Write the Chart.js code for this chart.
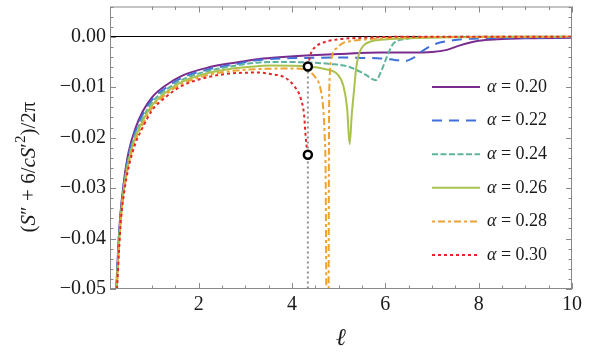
<!DOCTYPE html>
<html>
<head>
<meta charset="utf-8">
<script src="https://cdn.jsdelivr.net/npm/chart.js@4.4.1/dist/chart.umd.min.js"></script>
<style>
  html, body { margin: 0; padding: 0; background: #fff; }
  #chart { display: block; }
</style>
</head>
<body>
<canvas id="chart" width="598" height="359"></canvas>
<script>
// series labels and colours
const LABELS = ['α = 0.20', 'α = 0.22', 'α = 0.24', 'α = 0.26', 'α = 0.28', 'α = 0.30'];
const COLORS = ['#7a2c8e', '#3f6fd8', '#5fb39c', '#a9c24e', '#eda232', '#e2272b'];
const DASHES = [[], [10, 7], [6, 2.5], [], [3, 3, 7, 3], [3, 3]];

// values (ell, value); null breaks a line
const ell20 = [0.235, 0.28, 0.32, 0.4, 0.5, 0.65, 0.8, 1.0, 1.3, 1.65, 2.2, 2.8, 3.3, 3.8, 4.3, 5.0, 5.9, 6.5, 7.0, 7.32, 7.6, 8.0, 8.4, 9.1, 10];
const val20 = [-0.05, -0.041, -0.0355, -0.0285, -0.0228, -0.0180, -0.0148, -0.0120, -0.0096, -0.0077, -0.0061, -0.0051, -0.0044, -0.0040, -0.0037, -0.0034, -0.0031, -0.0031, -0.0030, -0.0026, -0.0017, -0.0008, -0.0005, -0.0003, -0.0002];

const ell22 = [0.238, 0.28, 0.32, 0.4, 0.5, 0.65, 0.8, 1.0, 1.3, 1.65, 2.2, 2.8, 3.3, 3.8, 4.3, 5.0, 5.5, 5.9, 6.2, 6.43, 6.58, 6.75, 7.05, 7.45, 8.1, 9.0, 10];
const val22 = [-0.05, -0.0415, -0.036, -0.029, -0.0234, -0.0186, -0.0154, -0.0125, -0.0101, -0.0081, -0.0065, -0.0054, -0.0046, -0.0043, -0.0042, -0.0041, -0.0042, -0.0043, -0.0046, -0.0048, -0.0043, -0.0031, -0.0015, -0.0007, -0.0003, -0.0002, -0.0001];

const ell24 = [0.24, 0.285, 0.325, 0.4, 0.5, 0.65, 0.8, 1.0, 1.3, 1.65, 2.2, 2.8, 3.3, 3.8, 4.33, 4.83, 5.2, 5.54, 5.8, 5.93, 6.04, 6.1, 6.18, 6.47, 7.0, 8.0, 10];
const val24 = [-0.05, -0.0415, -0.036, -0.0295, -0.0240, -0.0192, -0.0161, -0.0130, -0.0105, -0.0085, -0.0068, -0.0057, -0.0051, -0.0050, -0.0051, -0.0054, -0.0059, -0.0073, -0.0086, -0.0064, -0.0038, -0.0025, -0.0013, -0.0004, -0.0001, 0, 0];

const ell26 = [0.243, 0.29, 0.33, 0.4, 0.5, 0.65, 0.8, 1.0, 1.3, 1.65, 2.2, 2.8, 3.3, 3.54, 4.34, 4.7, 4.97, 5.1, 5.18, 5.235, 5.28, 5.33, 5.37, 5.41, 5.47, 5.55, 5.7, 5.9, 6.47, 7.5, 10];
const val26 = [-0.05, -0.0415, -0.036, -0.030, -0.0246, -0.0198, -0.0167, -0.0136, -0.0110, -0.0089, -0.0072, -0.0062, -0.0058, -0.0057, -0.0059, -0.0064, -0.0074, -0.0097, -0.0140, -0.0213, -0.0155, -0.0105, -0.0066, -0.0043, -0.0026, -0.0016, -0.0009, -0.0006, -0.0003, -0.0001, 0];

const ell28 = [0.246, 0.29, 0.33, 0.4, 0.5, 0.65, 0.8, 1.0, 1.3, 1.65, 2.2, 2.8, 3.3, 3.8, 4.08, 4.33, 4.47, 4.61, 4.67, 4.7, 4.72, 4.735,
               4.76,
               4.785, 4.79, 4.795, 4.81, 4.86, 4.97, 5.08, 5.3, 5.61, 6.5, 10];
const val28 = [-0.05, -0.042, -0.0365, -0.0305, -0.0252, -0.0204, -0.0174, -0.0141, -0.0114, -0.0093, -0.0076, -0.0067, -0.0064, -0.0063, -0.0063, -0.0067, -0.0077, -0.0103, -0.0143, -0.0195, -0.0267, -0.05,
               null,
               -0.05, -0.027, -0.0143, -0.0077, -0.0038, -0.0022, -0.0013, -0.0008, -0.0005, -0.0001, 0];

const ell30 = [0.25, 0.295, 0.335, 0.4, 0.5, 0.65, 0.8, 1.0, 1.3, 1.65, 2.2, 2.8, 3.3, 3.54, 3.83, 4.04, 4.19, 4.26, 4.29, 4.325, 4.34,
               4.34,
               4.345, 4.37, 4.42, 4.5, 4.65, 5.0, 5.5, 6.5, 10];
const val30 = [-0.05, -0.042, -0.0362, -0.031, -0.0258, -0.0210, -0.0180, -0.0146, -0.0119, -0.0097, -0.0080, -0.0072, -0.0071, -0.0074, -0.0080, -0.0097, -0.0123, -0.0156, -0.0195, -0.0225, -0.0234,
               null,
               -0.0059, -0.0045, -0.0030, -0.0020, -0.0012, -0.0005, -0.0002, 0, 0];

// transition guide and its end points
const ellGuide = [4.34, 4.34];
const valGuide = [-0.0059, -0.05];
const ellMarks = [4.34, 4.34];
const valMarks = [-0.0059, -0.0234];

// axes
const xMajor = [2, 4, 6, 8, 10];
const xTickLabels = ['2', '4', '6', '8', '10'];
const yMajor = [0, -0.01, -0.02, -0.03, -0.04, -0.05];
const yTickLabels = ['0.00', '−0.01', '−0.02', '−0.03', '−0.04', '−0.05'];
const xTitle = 'ℓ';
const yTitleRuns = [
    { t: '(', s: 'n' }, { t: 'S', s: 'i' }, { t: '″ + 6/', s: 'n' }, { t: 'cS', s: 'i' },
    { t: '′', s: 'n' }, { t: '2', s: 'sup' }, { t: ')/2π', s: 'n' }
];

const SERIES_ELL = [ell20, ell22, ell24, ell26, ell28, ell30];
const SERIES_VAL = [val20, val22, val24, val26, val28, val30];

const FONT = "'Liberation Serif', 'Times New Roman', serif";
const FRAME = '#8a8a8a';
const TEXT = '#1a1a1a';

const pts = (xs, ys) => xs.map((x, i) => ({ x: x, y: ys[i] }));

function findLabel(v, majors, labels) {
    for (let i = 0; i < majors.length; i++) {
        if (Math.abs(v - majors[i]) < 1e-9) return labels[i];
    }
    return '';
}

const datasets = SERIES_ELL.map((xs, i) => ({
    label: LABELS[i],
    data: pts(xs, SERIES_VAL[i]),
    borderColor: COLORS[i],
    backgroundColor: COLORS[i],
    borderDash: DASHES[i],
    borderWidth: 2,
    pointRadius: 0,
    cubicInterpolationMode: 'monotone',
    spanGaps: false,
    order: 6 - i,
    inLegend: true
}));

datasets.push({
    label: 'guide',
    data: pts(ellGuide, valGuide),
    borderColor: '#8f8f8f',
    borderDash: [2, 3],
    borderWidth: 2,
    pointRadius: 0,
    order: -1
});

datasets.push({
    label: 'marks',
    data: pts(ellMarks, valMarks),
    showLine: false,
    pointRadius: 4,
    pointBorderWidth: 2.5,
    pointBorderColor: '#000',
    pointBackgroundColor: '#fff',
    order: -2
});

const framePlugin = {
    id: 'frame',
    afterDatasetsDraw(chart) {
        const { ctx, chartArea: a, scales } = chart;
        const x = scales.x, y = scales.y;
        ctx.save();
        ctx.strokeStyle = FRAME;
        ctx.lineWidth = 1;
        ctx.beginPath();
        x.ticks.forEach(t => {
            if (Math.abs(t.value * 2 - Math.round(t.value * 2)) > 1e-6) return;
            const px = Math.round(x.getPixelForValue(t.value)) + 0.5;
            const len = t.label ? 6 : 3.5;
            ctx.moveTo(px, a.bottom); ctx.lineTo(px, a.bottom - len);
            ctx.moveTo(px, a.top); ctx.lineTo(px, a.top + len);
        });
        y.ticks.forEach(t => {
            const py = Math.round(y.getPixelForValue(t.value)) + 0.5;
            const len = t.label ? 6 : 3.5;
            ctx.moveTo(a.left, py); ctx.lineTo(a.left + len, py);
            ctx.moveTo(a.right, py); ctx.lineTo(a.right - len, py);
        });
        ctx.stroke();
        ctx.strokeRect(a.left + 0.5, a.top + 0.5, a.right - a.left - 1, a.bottom - a.top - 1);
        ctx.restore();
    }
};

const textPlugin = {
    id: 'texts',
    afterDraw(chart) {
        const ctx = chart.ctx;
        const a = chart.chartArea;
        ctx.save();
        ctx.fillStyle = TEXT;
        ctx.textBaseline = 'middle';

        // x title
        ctx.font = 'italic 24px ' + FONT;
        ctx.textAlign = 'center';
        ctx.fillText(xTitle, (a.left + a.right) / 2, 339);

        // y title, rotated
        const size = 21;
        const fontOf = r => r.s === 'i' ? 'italic ' + size + 'px ' + FONT
            : r.s === 'sup' ? Math.round(size * 0.7) + 'px ' + FONT
            : size + 'px ' + FONT;
        let total = 0;
        yTitleRuns.forEach(r => { ctx.font = fontOf(r); total += ctx.measureText(r.t).width; });
        ctx.translate(29, 167);
        ctx.rotate(-Math.PI / 2);
        ctx.textAlign = 'left';
        let cx = -total / 2;
        yTitleRuns.forEach(r => {
            ctx.font = fontOf(r);
            ctx.fillText(r.t, cx, r.s === 'sup' ? -8 : 0);
            cx += ctx.measureText(r.t).width;
        });
        ctx.restore();

        // legend inside the plot
        ctx.save();
        let row = 0;
        chart.data.datasets.forEach(ds => {
            if (!ds.inLegend) return;
            const yy = 87 + row * 33.6;
            ctx.strokeStyle = ds.borderColor;
            ctx.lineWidth = 2;
            ctx.setLineDash(ds.borderDash);
            ctx.beginPath();
            ctx.moveTo(432, yy);
            ctx.lineTo(480, yy);
            ctx.stroke();
            ctx.setLineDash([]);
            ctx.fillStyle = TEXT;
            ctx.textBaseline = 'middle';
            ctx.textAlign = 'left';
            ctx.font = 'italic 18px ' + FONT;
            const head = ds.label.charAt(0);
            ctx.fillText(head, 487, yy);
            const w = ctx.measureText(head).width;
            ctx.font = '18px ' + FONT;
            ctx.fillText(ds.label.slice(1), 487 + w, yy);
            row++;
        });
        ctx.restore();
    }
};

new Chart(document.getElementById('chart'), {
    type: 'line',
    data: { datasets: datasets },
    options: {
        responsive: false,
        animation: false,
        layout: { padding: { left: 0, right: 26, top: 4, bottom: 0 } },
        plugins: { legend: { display: false }, tooltip: { enabled: false } },
        scales: {
            x: {
                type: 'linear',
                min: 0.1,
                max: 10,
                grid: { display: false, drawTicks: false },
                border: { display: false },
                ticks: {
                    stepSize: 0.5,
                    autoSkip: false,
                    maxRotation: 0,
                    padding: 4,
                    color: TEXT,
                    font: { family: FONT, size: 20 },
                    callback: v => findLabel(v, xMajor, xTickLabels)
                },
                afterFit: s => { s.height = 70; s.paddingLeft = 0; s.paddingRight = 0; }
            },
            y: {
                type: 'linear',
                min: -0.05,
                max: 0.006,
                grid: {
                    drawTicks: false,
                    color: c => (c.tick && Math.abs(c.tick.value) < 1e-9) ? '#000' : 'rgba(0,0,0,0)',
                    lineWidth: 1
                },
                border: { display: false },
                ticks: {
                    stepSize: 0.002,
                    autoSkip: false,
                    padding: 4,
                    color: TEXT,
                    font: { family: FONT, size: 20 },
                    callback: v => findLabel(v, yMajor, yTickLabels)
                },
                afterFit: s => { s.width = 110; s.paddingTop = 0; s.paddingBottom = 0; }
            }
        }
    },
    plugins: [framePlugin, textPlugin]
});
</script>
</body>
</html>
